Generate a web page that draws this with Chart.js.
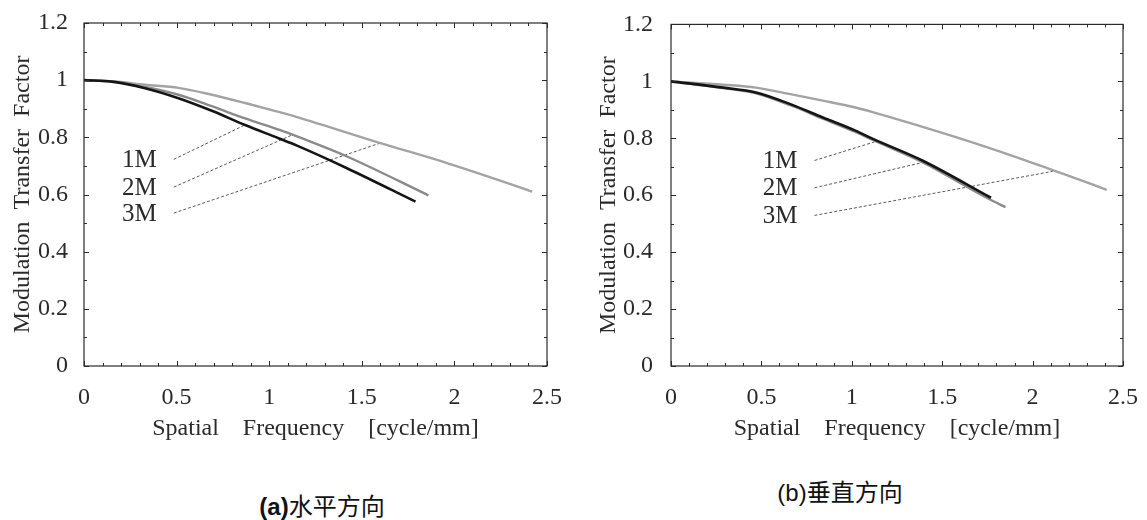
<!DOCTYPE html>
<html>
<head>
<meta charset="utf-8">
<script src="https://cdn.jsdelivr.net/npm/chart.js@4.4.1/dist/chart.umd.min.js"></script>
<style>
  html, body { margin:0; padding:0; background:#fff; width:1147px; height:520px; overflow:hidden; }
  .wrap { position:absolute; top:0; height:460px; }
  #wrapA { left:0; width:580px; }
  #wrapB { left:580px; width:567px; }
  .cap { position:absolute; transform:translate(-50%,-50%); white-space:nowrap; line-height:1;
         font-family:"Noto Sans CJK SC","Noto Sans",sans-serif; font-size:24px; color:#111; }
  .cap b { font-family:"Liberation Sans",Arial,sans-serif; }
  .cap span.p { font-family:"Liberation Sans",Arial,sans-serif; }
</style>
</head>
<body>
<div class="wrap" id="wrapA"><canvas id="mtfA"></canvas></div>
<div class="wrap" id="wrapB"><canvas id="mtfB"></canvas></div>
<div class="cap" style="left:322px; top:506px;"><b>(a)</b>水平方向</div>
<div class="cap" style="left:840px; top:492px;"><span class="p">(b)</span>垂直方向</div>

<script>
// ─────────────────────────────────────────────────────────────────────────────
//  DATA
// ─────────────────────────────────────────────────────────────────────────────
const seriesNames = ['1M', '2M', '3M'];

// (a) 水平方向
const aFreq1M = [0, 0.15, 0.33, 0.51, 0.69, 0.87, 1.05, 1.15, 1.42, 1.79];
const aMtf1M  = [1.0, 0.995, 0.972, 0.937, 0.893, 0.843, 0.797, 0.771, 0.692, 0.575];
const aFreq2M = [0, 0.15, 0.33, 0.51, 0.69, 0.87, 1.06, 1.15, 1.42, 1.86];
const aMtf2M  = [1.0, 0.995, 0.976, 0.949, 0.909, 0.866, 0.825, 0.803, 0.733, 0.597];
const aFreq3M = [0, 0.15, 0.33, 0.51, 0.69, 0.87, 1.05, 1.15, 1.6, 1.96, 2.35, 2.42];
const aMtf3M  = [1.0, 0.996, 0.984, 0.973, 0.949, 0.92, 0.889, 0.871, 0.78, 0.71, 0.626, 0.61];

// (b) 垂直方向
const bFreq1M = [0, 0.29, 0.47, 0.66, 0.84, 1.02, 1.12, 1.39, 1.77];
const bMtf1M  = [1.0, 0.978, 0.961, 0.92, 0.873, 0.827, 0.797, 0.722, 0.591];
const bFreq2M = [0, 0.29, 0.47, 0.66, 0.84, 1.02, 1.12, 1.39, 1.77, 1.85];
const bMtf2M  = [1.0, 0.976, 0.958, 0.916, 0.869, 0.822, 0.793, 0.716, 0.583, 0.558];
const bFreq3M = [0, 0.29, 0.47, 0.66, 0.84, 1.02, 1.12, 1.58, 1.94, 2.17, 2.41];
const bMtf3M  = [1.0, 0.988, 0.978, 0.955, 0.932, 0.908, 0.891, 0.803, 0.727, 0.675, 0.619];

// leader lines: label anchor -> point on curve  [x0, y0, x1, y1]
const aLeader1M = [0.485, 0.723, 0.868, 0.843];
const aLeader2M = [0.485, 0.626, 1.13, 0.81];
const aLeader3M = [0.485, 0.535, 1.6, 0.78];
const bLeader1M = [0.794, 0.722, 1.14, 0.79];
const bLeader2M = [0.794, 0.626, 1.385, 0.714];
const bLeader3M = [0.794, 0.529, 2.112, 0.684];

// axes
const xMin = 0, xMax = 2.5, xStep = 0.5;
const yMin = 0, yMax = 1.2, yStep = 0.2;
const xTitle = 'Spatial    Frequency    [cycle/mm]';
const yTitle = 'Modulation  Transfer  Factor';

// ─────────────────────────────────────────────────────────────────────────────
//  HELPERS
// ─────────────────────────────────────────────────────────────────────────────
const SERIF = '"Liberation Serif","Times New Roman",serif';
const COL = { m1:'#151515', m2:'#8a8a8a', m3:'#a3a3a3', lead:'#5a5a5a', ink:'#2a2a2a' };

const pts = (xs, ys) => xs.map((x,i) => ({ x, y: ys[i] }));
const leadPts = l => [{ x:l[0], y:l[1] }, { x:l[2], y:l[3] }];
const fmt = v => String(+(+v).toFixed(1));

const curve = (label, xs, ys, color, width) => ({
  label, data: pts(xs, ys),
  borderColor: color, borderWidth: width, pointRadius: 0,
  cubicInterpolationMode: 'monotone', fill: false, order: label === '1M' ? 0 : 1
});
const leader = (label, l) => ({
  label: 'lead' + label, data: leadPts(l),
  borderColor: COL.lead, borderWidth: 1, borderDash: [3, 2], pointRadius: 0, fill: false, order: 2
});

// frame, inward ticks and leader labels
const framePlugin = {
  id: 'frame',
  afterDatasetsDraw(chart, args, opts) {
    const { ctx, chartArea: a, scales: { x, y } } = chart;
    ctx.save();
    ctx.strokeStyle = '#2a2a2a';
    ctx.lineWidth = 1.2;
    ctx.strokeRect(a.left, a.top, a.right - a.left, a.bottom - a.top);
    ctx.lineWidth = 1;
    ctx.beginPath();
    for (let i = 0; i <= Math.round((xMax - xMin) * 10); i++) {
      const px = Math.round(x.getPixelForValue(xMin + i / 10)) + 0.5;
      const len = i % 5 === 0 ? 5 : 3;
      ctx.moveTo(px, a.bottom); ctx.lineTo(px, a.bottom - len);
      ctx.moveTo(px, a.top);    ctx.lineTo(px, a.top + len);
    }
    for (let i = 0; i <= Math.round((yMax - yMin) * 10); i++) {
      const py = Math.round(y.getPixelForValue(yMin + i / 10)) + 0.5;
      const len = i % 2 === 0 ? 5 : 3;
      ctx.moveTo(a.left, py);  ctx.lineTo(a.left + len, py);
      ctx.moveTo(a.right, py); ctx.lineTo(a.right - len, py);
    }
    ctx.stroke();

    ctx.fillStyle = COL.ink;
    ctx.font = '25px ' + SERIF;
    ctx.textAlign = 'right';
    ctx.textBaseline = 'middle';
    opts.leaders.forEach((l, i) => {
      ctx.fillText(seriesNames[i], x.getPixelForValue(l[0]) - 17, y.getPixelForValue(l[1]) + 1);
    });
    ctx.restore();
  }
};

function mk(id, curves, leaders, yAxisW, yTitlePad, yTickPad, padRight) {
  const el = document.getElementById(id);
  new Chart(el.getContext('2d'), {
    type: 'line',
    data: {
      datasets: [
        curve('3M', curves[2][0], curves[2][1], COL.m3, 2.4),
        curve('2M', curves[1][0], curves[1][1], COL.m2, 2.4),
        curve('1M', curves[0][0], curves[0][1], COL.m1, 2.6),
        ...leaders.map((l, i) => leader(seriesNames[i], l))
      ]
    },
    options: {
      responsive: true, maintainAspectRatio: false, animation: false,
      layout: { padding: { top: 23, right: padRight, left: 0, bottom: 0 } },
      plugins: { legend: { display: false }, tooltip: { enabled: false }, frame: { leaders } },
      scales: {
        x: {
          type: 'linear', min: xMin, max: xMax,
          afterFit(s) { s.height = 94; },
          ticks: { stepSize: xStep, color: COL.ink, padding: 9, callback: fmt,
                   font: { family: SERIF, size: 24, lineHeight: 1.2 }, maxRotation: 0 },
          grid: { display: false }, border: { display: false },
          title: { display: true, text: xTitle, color: COL.ink, padding: { top: 0, bottom: 17 },
                   font: { family: SERIF, size: 24, lineHeight: 1.2 } }
        },
        y: {
          type: 'linear', min: yMin, max: yMax,
          afterFit(s) { s.width = yAxisW; },
          ticks: { stepSize: yStep, color: COL.ink, padding: yTickPad, callback: fmt,
                   font: { family: SERIF, size: 24, lineHeight: 1.2 } },
          grid: { display: false }, border: { display: false },
          title: { display: true, text: yTitle, color: COL.ink, padding: { top: yTitlePad, bottom: 0 },
                   font: { family: SERIF, size: 24, lineHeight: 1.2 } }
        }
      }
    },
    plugins: [framePlugin]
  });
}

// (a) 水平方向
mk('mtfA',
  [[aFreq1M, aMtf1M], [aFreq2M, aMtf2M], [aFreq3M, aMtf3M]],
  [aLeader1M, aLeader2M, aLeader3M],
  84, 8, 8, 33);

// (b) 垂直方向
mk('mtfB',
  [[bFreq1M, bMtf1M], [bFreq2M, bMtf2M], [bFreq3M, bMtf3M]],
  [bLeader1M, bLeader2M, bLeader3M],
  91, 14, 10, 17);
</script>
</body>
</html>
